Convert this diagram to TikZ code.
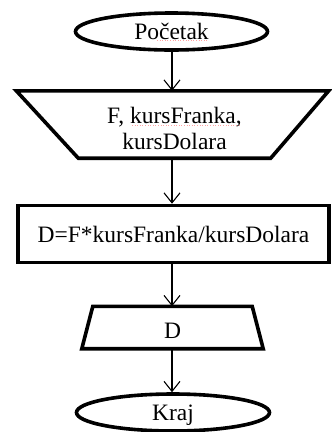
\documentclass[tikz,border=0pt]{standalone}
\usepackage{fontspec}
\setmainfont{Liberation Serif}
\usetikzlibrary{shapes.geometric,arrows.meta}
\begin{document}
\begin{tikzpicture}[x=1pt,y=-1pt,
  thick border/.style={draw=black,line width=3.6pt,line join=miter},
  txt/.style={inner sep=0pt,align=center,font=\fontsize{23.5}{26}\selectfont},
  term/.style={txt,thick border,ellipse,minimum width=192pt,minimum height=37pt},
  proc/.style={txt,thick border,rectangle,minimum width=311pt,minimum height=57pt},
  flow/.style={line width=1.1pt,-{Straight Barb[length=10pt,width=16pt,line width=1.1pt]}},
  spell/.style={draw=red!60,line width=0.6pt,dotted,opacity=0.6}]
\useasboundingbox (0,0) rectangle (332,432);
% nodes
\node[term] (start) at (171.5,31.5) {Početak};
\node[txt,minimum width=192pt,minimum height=67pt] (in) at (174.5,124.5) {};
\draw[thick border] ([xshift=-62pt]in.north west) -- ([xshift=58pt]in.north east)
  -- (in.south east) -- (in.south west) -- cycle;
\node[txt] (intext) at ([yshift=-4pt]in.center) {F, kursFranka,\\kursDolara};
\node[proc] (calc) at (173.5,234) {D=F*kursFranka/kursDolara};
\node[txt,minimum width=159pt,minimum height=42pt] (out) at (172.5,327.5) {};
\draw[thick border] (out.north west) -- (out.north east)
  -- ([xshift=11pt]out.south east) -- ([xshift=-11pt]out.south west) -- cycle;
\node[txt] (outtext) at ([yshift=-3pt]out.center) {D};
\node[term,minimum width=193pt] (end) at (173,412.5) {};
\node[txt] (endtext) at ([yshift=-3pt]end.center) {Kraj};
% connectors
\draw[flow] (start.south -| 172,0) -- (in.north -| 172,0);
\draw[flow] (in.south -| 172,0) -- (calc.north -| 172,0);
\draw[flow] (calc.south -| 172,0) -- (out.north -| 172,0);
\draw[flow] (out.south -| 172,0) -- (end.north -| 172,0);
% spell-check marks
\draw[spell] (157,40.5) -- (208,40.5);
\draw[spell] (132,125.5) -- (240,125.5);
\end{tikzpicture}
\end{document}
